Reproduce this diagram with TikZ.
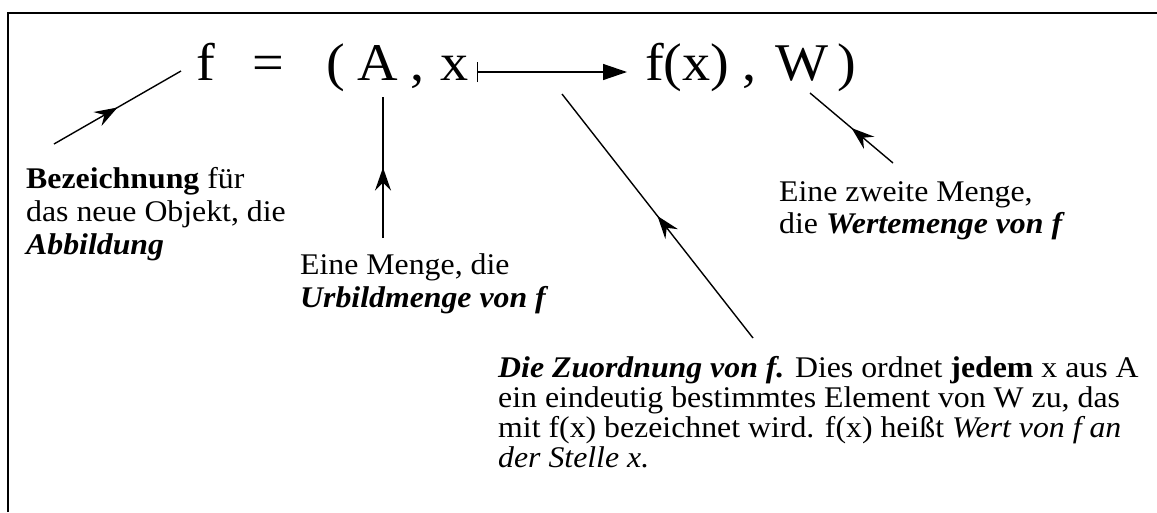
\documentclass[tikz,border=0pt]{standalone}
\usepackage{fontspec}
\setmainfont{Liberation Serif}[FakeStretch=1.06]
\usetikzlibrary{arrows.meta,decorations.markings}

\begin{document}
\begin{tikzpicture}[x=1pt, y=-1pt,
    sym/.style={font=\fontsize{53}{60}\selectfont, inner sep=0pt, anchor=base west},
    txt/.style={font=\fontsize{30}{32}\selectfont, inner sep=0pt, anchor=base west, align=left},
    pointer/.style={line width=1.4pt, postaction={decorate},
      decoration={markings, mark=at position 0.5 with {\arrow{Stealth[length=23pt, width=16pt, inset=8pt]}}}}]
  \useasboundingbox (0,0) rectangle (1157,512);
  % frame (only top and left edge visible)
  \draw[line width=2.8pt] (8,512) -- (8,13) -- (1157,13);

  % the formula
  \node[sym] (fsym)   at (196,80) {f};
  \node[sym] (eqsym)  at (252,80) {=};
  \node[sym] (lpar)   at (326,80) {(};
  \node[sym] (Aset)   at (357,80) {A};
  \node[sym] (comma1) at (410,80) {,};
  \node[sym] (xvar)   at (440,80) {x};
  \node[sym] (fx)     at (645,80) {f(x)};
  \node[sym] (comma2) at (742,80) {,};
  \node[sym] (Wset)   at (775,80) {W};
  \node[sym] (rpar)   at (837,80) {)};
  \coordinate (mapA) at (477,72);
  \coordinate (mapB) at (627,72);
  \draw[line width=1.4pt, {Bar[width=20pt]}-{Triangle[length=24pt, width=16pt]}] (mapA) -- (mapB);

  % explanations (node base = baseline of the last line)
  \node[txt, font=\fontsize{30}{33}\selectfont] (bez) at (26,254)
    {\textbf{Bezeichnung} für\\das neue Objekt, die\\\textbf{\textit{Abbildung}}};
  \node[txt, font=\fontsize{30}{33}\selectfont] (urbild) at (300,307)
    {Eine Menge, die\\\textbf{\textit{Urbildmenge von f}}};
  \node[txt] (werte) at (779,233) {Eine zweite Menge,\\die \textbf{\textit{Wertemenge von f}}};
  \node[txt, font=\fontsize{30}{30}\selectfont] (zuord) at (498,467)
    {\textbf{\textit{Die Zuordnung von f.}} Dies ordnet \textbf{jedem} x aus A\\
    ein eindeutig bestimmtes Element von W zu, das\\
    mit f(x) bezeichnet wird. f(x) heißt \textit{Wert von f an}\\
    \textit{der Stelle x.}};

  % pointers
  \coordinate (bezTip)    at (54,144);
  \coordinate (fTip)      at (181,71);
  \coordinate (urbTip)    at (383,238);
  \coordinate (ATip)      at (383,97);
  \coordinate (zuoTip)    at (753,338);
  \coordinate (mapTip)    at (562,94);
  \coordinate (wertTip)   at (893,163);
  \coordinate (WTip)      at (810,93);
  \draw[pointer] (bezTip) -- (fTip);
  \draw[pointer] (urbTip) -- (ATip);
  \draw[pointer] (zuoTip) -- (mapTip);
  \draw[pointer] (wertTip) -- (WTip);
\end{tikzpicture}
\end{document}
